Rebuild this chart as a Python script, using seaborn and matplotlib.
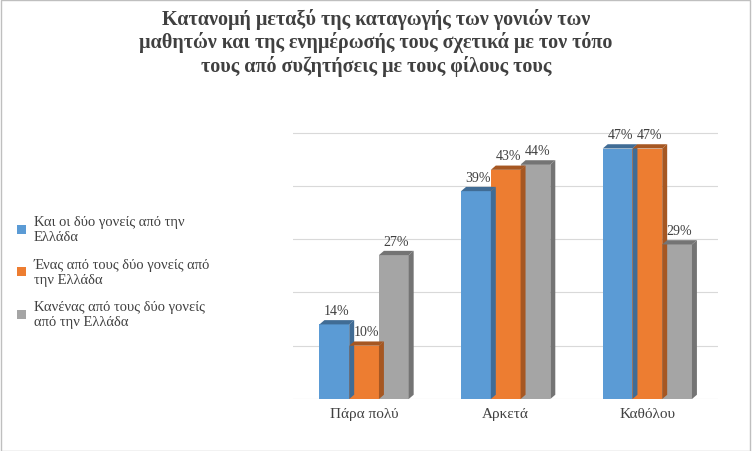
import pandas as pd
import seaborn as sns
import matplotlib.pyplot as plt
from matplotlib.patches import Polygon

# Data
categories = ['Πάρα πολύ', 'Αρκετά', 'Καθόλου']
groups = ['Και οι δύο γονείς από την\nΕλλάδα',
          'Ένας από τους δύο γονείς από\nτην Ελλάδα',
          'Κανένας από τους δύο γονείς\nαπό την Ελλάδα']
both_greek = [0.14, 0.39, 0.47]
one_greek = [0.10, 0.43, 0.47]
none_greek = [0.27, 0.44, 0.29]

rows = []
for g, vals in zip(groups, [both_greek, one_greek, none_greek]):
    for c, v in zip(categories, vals):
        rows.append({'cat': c, 'group': g, 'value': v})
df = pd.DataFrame(rows)

colors = ['#5B9BD5', '#ED7D31', '#A5A5A5']

fig = plt.figure(figsize=(7.52, 4.52), dpi=100)
ax = fig.add_axes([0.39, 0.115, 0.565, 0.625])
sns.barplot(data=df, x='cat', y='value', hue='group', order=categories,
            hue_order=groups, palette=colors, width=0.63, ax=ax,
            saturation=1, legend=True)

ax.set_ylim(0, 0.53)
ax.set_xlim(-0.5, 2.5)
dx, dy = 0.035, 0.008
for patch in list(ax.patches):
    x0, y0 = patch.get_x(), patch.get_y()
    w, h = patch.get_width(), patch.get_height()
    if w == 0:
        continue
    base = patch.get_facecolor()
    dark = tuple(c * 0.7 for c in base[:3])
    side = Polygon([(x0 + w, y0), (x0 + w + dx, y0 + dy),
                    (x0 + w + dx, y0 + h + dy), (x0 + w, y0 + h)],
                   closed=True, facecolor=dark, edgecolor='none', zorder=patch.get_zorder())
    top = Polygon([(x0, y0 + h), (x0 + dx, y0 + h + dy),
                   (x0 + w + dx, y0 + h + dy), (x0 + w, y0 + h)],
                  closed=True, facecolor=dark, edgecolor='none', zorder=patch.get_zorder())
    ax.add_patch(side)
    ax.add_patch(top)
    ax.text(x0 + w / 2 + dx / 2, y0 + h + dy + 0.006, f'{round(h * 100):.0f}%',
            ha='center', va='bottom', fontsize=10, color='#404040',
            family='Liberation Serif')

for yv in [0, 0.1, 0.2, 0.3, 0.4, 0.5]:
    ax.axhline(yv, color='#D9D9D9', lw=0.8, zorder=0)

for s in ax.spines.values():
    s.set_visible(False)
ax.set_yticks([])
ax.set_xlabel('')
ax.set_ylabel('')
ax.tick_params(axis='x', length=0, labelsize=11, colors='#404040', pad=6)
for t in ax.get_xticklabels():
    t.set_family('Liberation Serif')

ax.legend(loc='center left', bbox_to_anchor=(-0.68, 0.45), frameon=False,
          prop={'family': 'Liberation Serif', 'size': 10.5},
          handlelength=0.6, handleheight=0.6, labelspacing=1.0, handletextpad=0.5,
          labelcolor='#404040')

fig.text(0.5, 0.905, 'Κατανομή μεταξύ της καταγωγής των γονιών των\n'
         'μαθητών και της ενημέρωσής τους σχετικά με τον τόπο\n'
         'τους από συζητήσεις με τους φίλους τους',
         ha='center', va='center', fontsize=14.5, fontweight='bold',
         color='#404040', family='Liberation Serif', linespacing=1.15)

fig.patches.append(plt.Rectangle((0.001, 0.001), 0.997, 0.997, transform=fig.transFigure,
                                 fill=False, edgecolor='#BFBFBF', lw=1))
fig.savefig('out.png', dpi=100, facecolor='white')
